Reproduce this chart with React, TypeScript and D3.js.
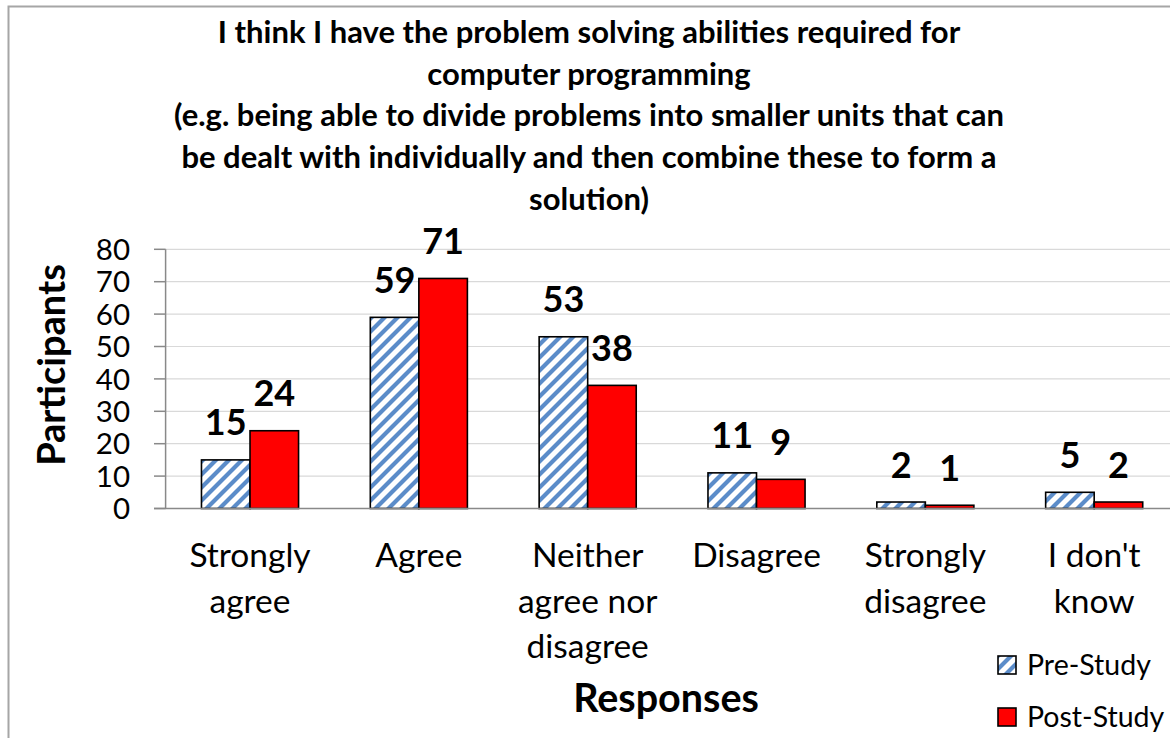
import React from "react";
import * as d3 from "d3";

// Survey responses, before and after the study
const categories: string[][] = [
  ["Strongly", "agree"],
  ["Agree"],
  ["Neither", "agree nor", "disagree"],
  ["Disagree"],
  ["Strongly", "disagree"],
  ["I don't", "know"],
];
const preStudy = [15, 59, 53, 11, 2, 5];
const postStudy = [24, 71, 38, 9, 1, 2];
const seriesNames = ["Pre-Study", "Post-Study"];
const yTicks = [0, 10, 20, 30, 40, 50, 60, 70, 80];
const titleLines = [
  "I think I have the problem solving abilities required for",
  "computer programming",
  "(e.g. being able to divide problems into smaller units that can",
  "be dealt with individually and then combine these to form a",
  "solution)",
];

const W = 1170;
const H = 738;
const FONT = "Lato, 'Open Sans', sans-serif";

const plot = { left: 165.6, right: 1178.6, top: 249.3, bottom: 508.5 };

export default function App() {
  const keys = categories.map((c) => c.join(" "));
  const x = d3.scaleBand<string>().domain(keys).range([plot.left, plot.right]).padding(0);
  const y = d3.scaleLinear().domain([0, 80]).range([plot.bottom, plot.top]);
  const barW = x.bandwidth() * 0.2875;
  const sub = d3
    .scaleBand<string>()
    .domain(seriesNames)
    .range([x.bandwidth() / 2 - barW, x.bandwidth() / 2 + barW])
    .padding(0);

  const series = [
    { name: seriesNames[0], values: preStudy, fill: "url(#hatch)" },
    { name: seriesNames[1], values: postStudy, fill: "#ff0000" },
  ];

  return (
    <svg
      width={W}
      height={H}
      style={{ position: "absolute", left: 0, top: 0, background: "#fff" }}
      fontFamily={FONT}
    >
      <defs>
        <pattern id="hatch" patternUnits="userSpaceOnUse" width={13} height={13}>
          <rect width={13} height={13} fill="#ffffff" />
          <path
            d="M-3.25,3.25 L3.25,-3.25 M0,13 L13,0 M9.75,16.25 L16.25,9.75"
            stroke="#5b8cc9"
            strokeWidth={4.2}
          />
        </pattern>
      </defs>

      {/* chart frame */}
      <rect x={8.5} y={6.5} width={1200} height={800} fill="none" stroke="#a6a6a6" strokeWidth={2} />

      {/* title */}
      <g fontWeight="bold" fontSize={31} textAnchor="middle" fill="#000">
        {titleLines.map((t, i) => (
          <text key={i} x={589} y={43 + i * 41.7}>
            {t}
          </text>
        ))}
      </g>

      {/* gridlines */}
      <g>
        {yTicks.filter((t) => t > 0).map((t) => (
          <line key={t} x1={plot.left} x2={plot.right} y1={y(t)} y2={y(t)} stroke="#d9d9d9" strokeWidth={1.2} />
        ))}
      </g>

      {/* bars */}
      {series.map((s) => (
        <g key={s.name}>
          {s.values.map((v, i) => {
            const bx = (x(keys[i]) as number) + (sub(s.name) as number);
            return (
              <rect
                key={i}
                x={bx}
                y={y(v)}
                width={sub.bandwidth()}
                height={y(0) - y(v)}
                fill={s.fill}
                stroke="#000"
                strokeWidth={1.6}
              />
            );
          })}
        </g>
      ))}

      {/* value labels */}
      {series.map((s) => (
        <g key={s.name + "-lbl"} fontWeight="bold" fontSize={36} textAnchor="middle" fill="#000">
          {s.values.map((v, i) => (
            <text
              key={i}
              x={(x(keys[i]) as number) + (sub(s.name) as number) + sub.bandwidth() / 2}
              y={y(v) - 24.5}
            >
              {v}
            </text>
          ))}
        </g>
      ))}

      {/* axes */}
      <g stroke="#898989" strokeWidth={1.5}>
        <line x1={plot.left} x2={plot.left} y1={plot.top} y2={plot.bottom} />
        <line x1={154} x2={plot.right} y1={plot.bottom} y2={plot.bottom} />
        {yTicks.map((t) => (
          <line key={t} x1={154} x2={plot.left} y1={y(t)} y2={y(t)} />
        ))}
      </g>
      <g fontSize={29.5} textAnchor="end" fill="#000">
        {yTicks.map((t) => (
          <text key={t} x={130} y={y(t)} dy="0.36em">
            {t}
          </text>
        ))}
      </g>

      {/* category labels */}
      <g fontSize={33.5} textAnchor="middle" fill="#000">
        {categories.map((lines, i) => (
          <text key={i} x={(x(keys[i]) as number) + x.bandwidth() / 2} y={567}>
            {lines.map((l, j) => (
              <tspan key={j} x={(x(keys[i]) as number) + x.bandwidth() / 2} y={567 + j * 45.5}>
                {l}
              </tspan>
            ))}
          </text>
        ))}
      </g>

      {/* axis titles */}
      <text
        transform="translate(65,365) rotate(-90)"
        textAnchor="middle"
        fontWeight="bold"
        fontSize={38}
        fill="#000"
      >
        Participants
      </text>
      <text x={666} y={712} textAnchor="middle" fontWeight="bold" fontSize={39.5} fill="#000">
        Responses
      </text>

      {/* legend */}
      <g>
        {series.map((s, i) => (
          <g key={s.name} transform={`translate(998,${656 + i * 52})`}>
            <rect width={18} height={18} fill={s.fill} stroke="#000" strokeWidth={1.6} />
            <text x={29} y={18.5} fontSize={28.5} fill="#000">
              {s.name}
            </text>
          </g>
        ))}
      </g>
    </svg>
  );
}
